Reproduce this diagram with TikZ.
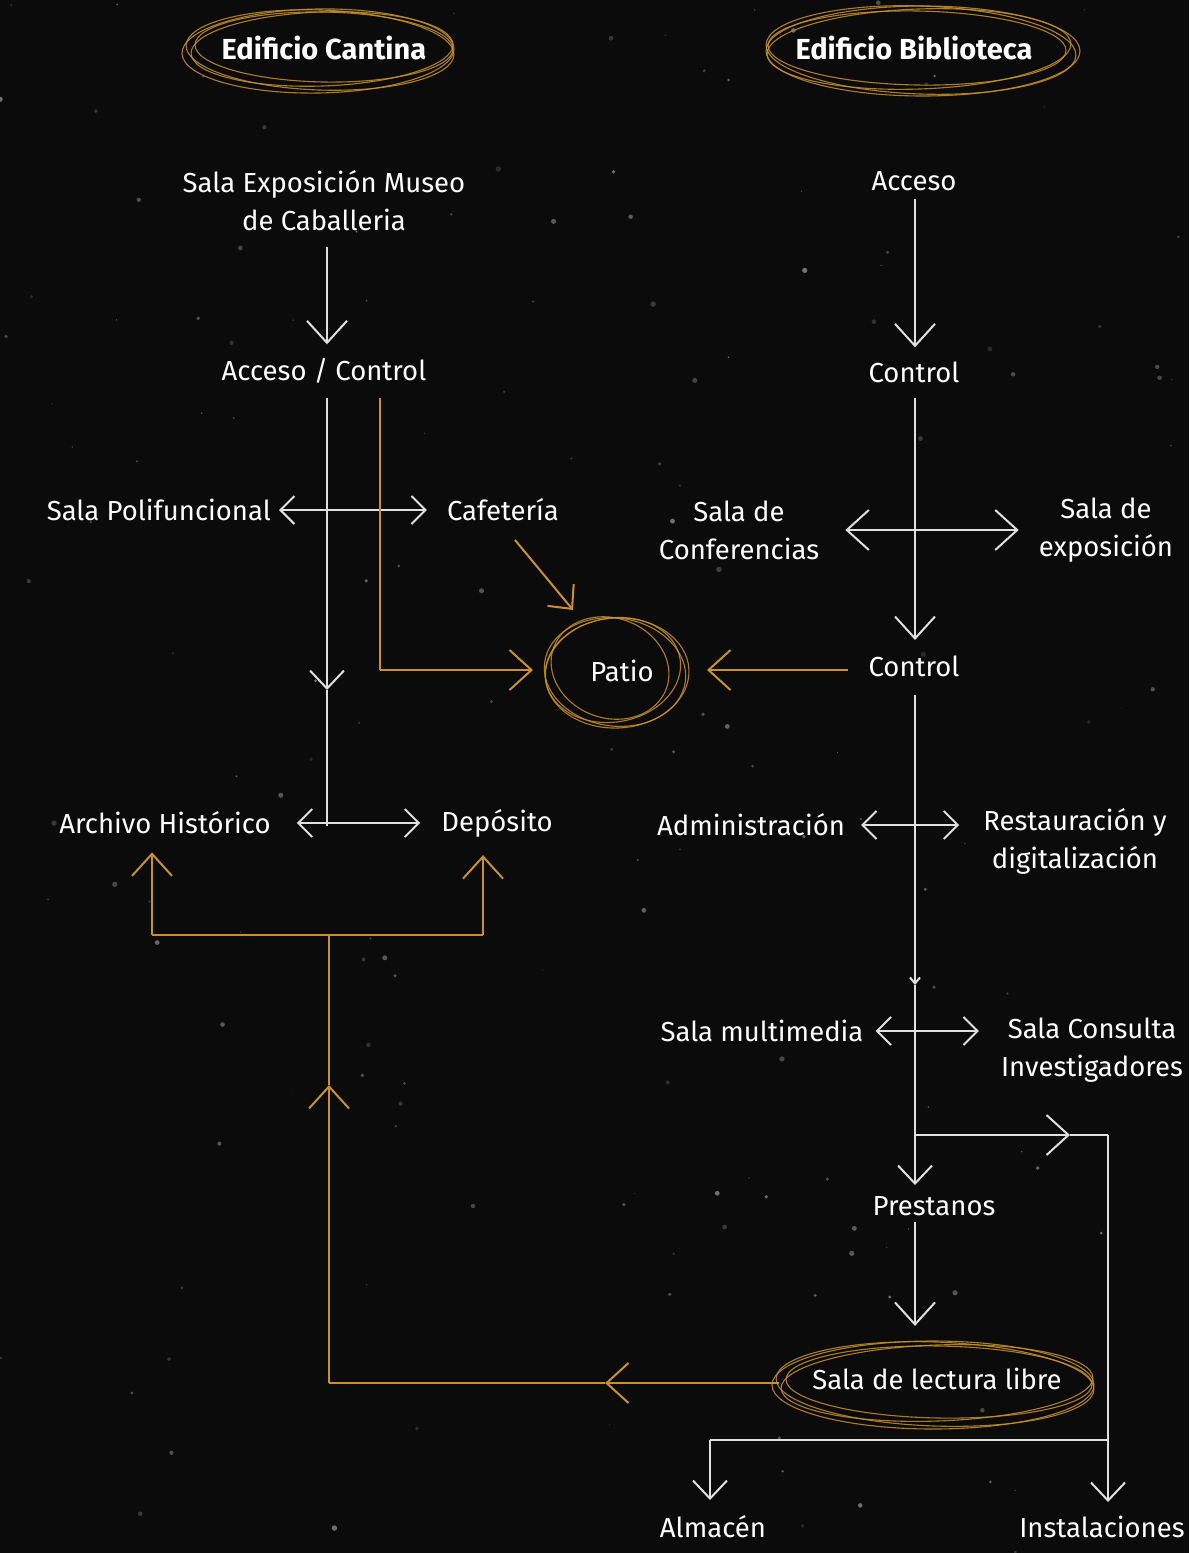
\documentclass[tikz,border=0pt]{standalone}
\usepackage{fontspec}
\setmainfont{Fira Sans}
\usetikzlibrary{arrows.meta}
\definecolor{bg}{HTML}{0B0B0B}
\definecolor{chalk}{HTML}{E0E0E0}
\definecolor{gold}{HTML}{C8912F}
\tikzset{
  bigtip/.tip={Straight Barb[length=22pt,width=40pt]},
  midtip/.tip={Straight Barb[length=18pt,width=34pt]},
  smalltip/.tip={Straight Barb[length=14pt,width=28pt]},
  tinytip/.tip={Straight Barb[length=6pt,width=10pt]},
  lbl/.style={text=white,font=\fontsize{27.5}{38}\selectfont,align=center,inner sep=2pt},
  ttl/.style={text=white,font=\fontsize{29}{32}\selectfont\bfseries,align=center,inner sep=2pt},
  wl/.style={draw=chalk,line width=2pt},
  gl/.style={draw=gold,line width=2pt},
  scr/.style={draw=gold,line width=1.1pt,opacity=0.85},
}
\begin{document}
\begin{tikzpicture}[x=1pt,y=-1pt]
\fill[bg] (0,0) rectangle (1189,1553);
\useasboundingbox (0,0) rectangle (1189,1553);
% faint stars
\pgfmathsetseed{11}
\foreach \i in {1,...,160}{
  \pgfmathsetmacro\sx{rnd*1189}
  \pgfmathsetmacro\sy{rnd*1553}
  \pgfmathsetmacro\sr{0.6+rnd*2.2}
  \pgfmathsetmacro\so{0.12+rnd*0.3}
  \fill[white,opacity=\so] (\sx,\sy) circle[radius=\sr pt];
}
% ---------- nodes ----------
\node[ttl] (t1) at (324,48) {Edificio Cantina};
\node[ttl] (t2) at (914,48) {Edificio Biblioteca};
\node[lbl] (museo) at (324,201) {Sala Exposición Museo\\de Caballeria};
\node[lbl] (acc1) at (324,371) {Acceso / Control};
\node[lbl,anchor=east] (poli) at (273,510) {Sala Polifuncional};
\node[lbl] (cafe) at (503,510) {Cafetería};
\node[lbl,inner sep=0pt,minimum width=120pt,minimum height=90pt] (patio) at (622,671) {Patio};
\node[lbl] (arch) at (165,823) {Archivo Histórico};
\node[lbl] (depo) at (497,823) {Depósito};
\node[lbl] (acc2) at (914,181) {Acceso};
\node[lbl] (ctl1) at (914,372) {Control};
\node[lbl] (conf) at (739,530) {Sala de\\Conferencias};
\node[lbl] (expo) at (1106,530) {Sala de\\exposición};
\node[lbl] (ctl2) at (914,666) {Control};
\node[lbl] (adm) at (751,825) {Administración};
\node[lbl] (rest) at (1075,841) {Restauración y\\digitalización};
\node[lbl] (mult) at (762,1031) {Sala multimedia};
\node[lbl] (cons) at (1092,1050) {Sala Consulta\\Investigadores};
\node[lbl] (prest) at (934,1206) {Prestanos};
\node[lbl] (lect) at (937,1379) {Sala de lectura libre};
\node[lbl] (alm) at (713,1527) {Almacén};
\node[lbl] (inst) at (1102,1527) {Instalaciones};
% ---------- scribbled ellipses ----------
\draw[scr,rotate around={-2:(320,50)}] (320,50) ellipse [x radius=134,y radius=40];
\draw[scr,rotate around={2:(322,49)}] (322,49) ellipse [x radius=131,y radius=37];
\draw[scr,rotate around={1:(318,51)}] (318,51) ellipse [x radius=136,y radius=42];
\draw[scr,rotate around={-1:(324,47)}] (324,47) ellipse [x radius=129,y radius=35];
\draw[scr,rotate around={-2:(921,50)}] (921,50) ellipse [x radius=155,y radius=44];
\draw[scr,rotate around={2:(919,49)}] (919,49) ellipse [x radius=152,y radius=40];
\draw[scr,rotate around={0:(923,51)}] (923,51) ellipse [x radius=157,y radius=45];
\draw[scr,rotate around={-1:(917,48)}] (917,48) ellipse [x radius=149,y radius=37];
\draw[scr,rotate around={-8:(615,672)}] (615,672) ellipse [x radius=71,y radius=54];
\draw[scr,rotate around={10:(613,670)}] (613,670) ellipse [x radius=68,y radius=52];
\draw[scr,rotate around={3:(617,673)}] (617,673) ellipse [x radius=72,y radius=55];
\draw[scr,rotate around={-20:(610,668)}] (610,668) ellipse [x radius=60,y radius=50];
\draw[scr,rotate around={-2:(935,1384)}] (935,1384) ellipse [x radius=159,y radius=42];
\draw[scr,rotate around={2:(937,1383)}] (937,1383) ellipse [x radius=156,y radius=38];
\draw[scr,rotate around={0:(933,1385)}] (933,1385) ellipse [x radius=161,y radius=44];
\draw[scr,rotate around={-1:(939,1382)}] (939,1382) ellipse [x radius=153,y radius=36];
% ---------- coordinates ----------
\coordinate (wLtop) at (327,398);
\coordinate (wLmid) at (327,690);
\coordinate (wLbot) at (327,826);
\coordinate (oTop) at (380,398);
\coordinate (oCorner) at (380,670);
\coordinate (oPatioL) at (533,670);
\coordinate (cafeA) at (515,540);
\coordinate (cafeB) at (573,610);
\coordinate (ctl2L) at (848,670);
\coordinate (patioR) at (707,670);
\coordinate (ob1) at (152,935);
\coordinate (ob2) at (483,935);
\coordinate (obm) at (329,935);
\coordinate (obUp) at (329,1085);
\coordinate (obL) at (329,1383);
\coordinate (obTip) at (605,1383);
\coordinate (lectL) at (779,1383);
\coordinate (rT1) at (915,398);
\coordinate (rM1) at (915,640);
\coordinate (rT2) at (915,695);
\coordinate (rTiny) at (915,985);
\coordinate (rBr) at (916,1135);
\coordinate (rEnd) at (915,1185);
\coordinate (brTip) at (1070,1135);
\coordinate (brC) at (1108,1135);
\coordinate (brBot) at (1108,1440);
\coordinate (instTop) at (1108,1502);
\coordinate (almC) at (710,1440);
\coordinate (almTop) at (710,1500);
% ---------- left white connectors ----------
\draw[wl,-bigtip,shorten <=14pt,shorten >=12pt] (museo.south -| wLtop) -- (acc1.north -| wLtop);
\draw[wl,-midtip] (wLtop) -- (wLmid);
\draw[wl] (wLmid) -- (wLbot);
\draw[wl,smalltip-smalltip,shorten <=6pt,shorten >=18pt] (poli.east) -- (poli.east -| cafe.west);
\draw[wl,smalltip-smalltip,shorten <=24pt,shorten >=19pt] (arch.east) -- (arch.east -| depo.west);
% ---------- left gold connectors ----------
\draw[gl] (oTop) -- (oCorner);
\draw[gl,-bigtip] (oCorner) -- (oPatioL);
\draw[gl,-midtip] (cafeA) -- (cafeB);
\draw[gl,-bigtip] (ctl2L) -- (patioR);
\draw[gl,-bigtip,shorten >=16pt] (ob1) -- (ob1 |- arch.south);
\draw[gl] (ob1) -- (ob2);
\draw[gl,-bigtip,shorten >=16pt] (ob2) -- (ob2 |- depo.south);
\draw[gl,-bigtip] (lectL) -- (obTip);
\draw[gl] (obTip) -- (obL);
\draw[gl,-bigtip] (obL) -- (obUp);
\draw[gl] (obUp) -- (obm);
% ---------- right white connectors ----------
\draw[wl,-bigtip,shorten <=6pt,shorten >=12pt] (acc2.south -| rT1) -- (ctl1.north -| rT1);
\draw[wl,-bigtip] (rT1) -- (rM1);
\draw[wl,bigtip-bigtip,shorten <=24pt,shorten >=18pt] (conf.east) -- (expo.west);
\draw[wl,-tinytip] (rT2) -- (rTiny);
\draw[wl,-midtip] (rTiny) -- (rEnd);
\draw[wl,smalltip-smalltip,shorten <=14pt,shorten >=22pt] (adm.east) -- (adm.east -| rest.west);
\draw[wl,smalltip-smalltip,shorten <=10pt,shorten >=20pt] (mult.east) -- (mult.east -| cons.west);
\draw[wl,-bigtip] (rBr) -- (brTip);
\draw[wl] (brTip) -- (brC);
\draw[wl,-midtip] (brC) -- (instTop);
\draw[wl,-bigtip,shorten <=4pt,shorten >=40pt] (prest.south -| rT1) -- (lect.north -| rT1);
\draw[wl] (brBot) -- (almC);
\draw[wl,-midtip] (almC) -- (almTop);
\end{tikzpicture}
\end{document}
